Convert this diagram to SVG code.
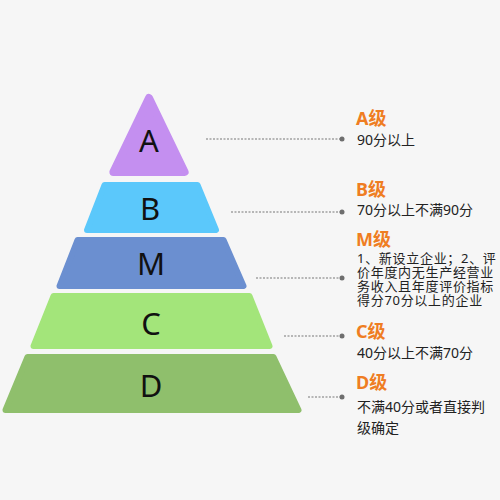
<svg xmlns="http://www.w3.org/2000/svg" width="500" height="500" viewBox="0 0 500 500">
<style>
.lvl{stroke-linejoin:round}
.letter{font-family:"Noto Sans","Open Sans",sans-serif;font-size:31px;fill:#111;text-anchor:middle}
.title{font-family:"Noto Sans","Noto Sans CJK SC",sans-serif;font-size:18px;font-weight:bold;fill:#ef7d22}
.desc{font-family:"Noto Sans","Noto Sans CJK SC",sans-serif;font-size:14px;fill:#222}
.desc.m{font-size:13px;letter-spacing:0.7px}
.lead{stroke:#777;stroke-width:1;stroke-dasharray:2 1.5;fill:none}
.dot{fill:#6e6e6e}
</style>
<rect width="500" height="500" fill="#f6f6f6"/>
<g id="level-A">
<polygon class="lvl" points="149,98 184.6,172 113.4,172" fill="#c48ff0" stroke="#c48ff0" stroke-width="8"/>
<text class="letter" x="149" y="152">A</text>
</g>
<g id="level-B">
<polygon class="lvl" points="104.5,185 197.5,185 216,230 87,230" fill="#5bc8fb" stroke="#5bc8fb" stroke-width="6"/>
<text class="letter" x="150" y="220">B</text>
</g>
<g id="level-M">
<polygon class="lvl" points="77.5,240 223.5,240 243.5,286 59.5,286" fill="#6b8fd0" stroke="#6b8fd0" stroke-width="6"/>
<text class="letter" x="151" y="275">M</text>
</g>
<g id="level-C">
<polygon class="lvl" points="53.5,296 249.5,296 269.5,346 33.5,346" fill="#a3e57a" stroke="#a3e57a" stroke-width="6"/>
<text class="letter" x="151" y="335">C</text>
</g>
<g id="level-D">
<polygon class="lvl" points="27.5,357 273.5,357 298.5,410 5.5,410" fill="#8fbf6c" stroke="#8fbf6c" stroke-width="6"/>
<text class="letter" x="151" y="397">D</text>
</g>
<g id="connectors">
<line class="lead" x1="206" y1="139" x2="342" y2="139"/><circle class="dot" cx="342" cy="139" r="2.5"/>
<line class="lead" x1="231" y1="212" x2="342" y2="212"/><circle class="dot" cx="342" cy="212" r="2.5"/>
<line class="lead" x1="256" y1="278" x2="342" y2="278"/><circle class="dot" cx="342" cy="278" r="2.5"/>
<line class="lead" x1="284" y1="336" x2="342" y2="336"/><circle class="dot" cx="342" cy="336" r="2.5"/>
<line class="lead" x1="308" y1="397" x2="342" y2="397"/><circle class="dot" cx="342" cy="397" r="2.5"/>
</g>
<g id="label-A">
<text class="title" x="356" y="125">A级</text>
<text class="desc" x="357" y="145">90分以上</text>
</g>
<g id="label-B">
<text class="title" x="356" y="196">B级</text>
<text class="desc" x="357" y="215">70分以上不满90分</text>
</g>
<g id="label-M">
<text class="title" x="356" y="246">M级</text>
<text class="desc m" x="357" y="263">1、新设立企业；2、评<tspan x="357" dy="14">价年度内无生产经营业</tspan><tspan x="357" dy="14">务收入且年度评价指标</tspan><tspan x="357" dy="14">得分70分以上的企业</tspan></text>
</g>
<g id="label-C">
<text class="title" x="356" y="338">C级</text>
<text class="desc" x="357" y="358">40分以上不满70分</text>
</g>
<g id="label-D">
<text class="title" x="356" y="389">D级</text>
<text class="desc" x="357" y="412">不满40分或者直接判<tspan x="357" dy="21">级确定</tspan></text>
</g>
</svg>
